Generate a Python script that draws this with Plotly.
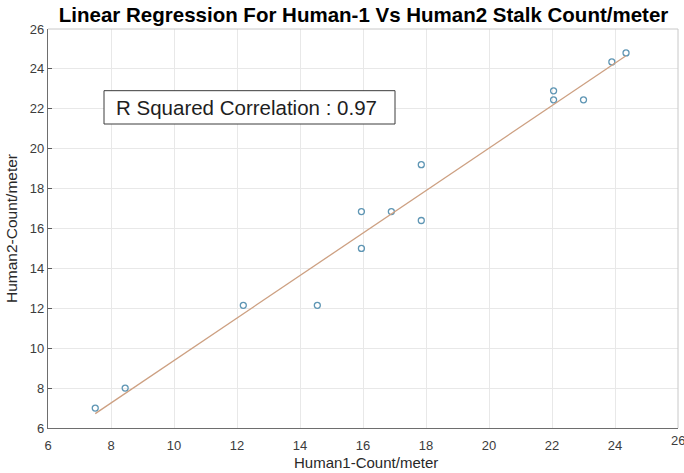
import numpy as np
import plotly.graph_objects as go

human1 = [7.5, 8.45, 12.2, 14.55, 15.95, 15.95, 16.9, 17.85, 17.85, 22.05, 22.05, 23.0, 23.9, 24.35]
human2 = [7.0, 8.0, 12.15, 12.15, 16.85, 15.0, 16.85, 19.2, 16.4, 22.9, 22.45, 22.45, 24.35, 24.8]
x_ticks = [6, 8, 10, 12, 14, 16, 18, 20, 22, 24, 26]
y_ticks = [6, 8, 10, 12, 14, 16, 18, 20, 22, 24, 26]
r2_text = "R Squared Correlation : 0.97"
x_title = "Human1-Count/meter"
y_title = "Human2-Count/meter"

slope, intercept = np.polyfit(human1, human2, 1)
fit_x = [min(human1), max(human1)]
fit_y = [slope * v + intercept for v in fit_x]

fig = go.Figure()
fig.add_trace(go.Scatter(
    x=human1, y=human2, mode="markers",
    marker=dict(symbol="circle-open", size=6, color="rgb(95,150,180)", line=dict(width=1.3)),
    showlegend=False))
fig.add_trace(go.Scatter(
    x=fit_x, y=fit_y, mode="lines",
    line=dict(color="rgb(205,160,130)", width=1.3), showlegend=False))

tick_font = dict(family="Liberation Sans, Arial", size=13, color="rgb(60,60,60)")
axis_common = dict(
    showgrid=True, gridcolor="rgb(232,232,232)", gridwidth=1,
    showline=True, linecolor="rgb(110,110,110)", linewidth=1.2,
    tickfont=tick_font, zeroline=False, automargin=False,
)

fig.update_layout(
    width=684, height=473,
    margin=dict(l=48, r=6, t=29, b=45),
    paper_bgcolor="white", plot_bgcolor="white",
    title=dict(text="<b>Linear Regression For Human-1 Vs Human2 Stalk Count/meter</b>",
               x=0.5315, xanchor="center", y=0.968, yanchor="middle", automargin=False,
               font=dict(family="Liberation Sans, Arial", size=20.5, color="black")),
    xaxis=dict(range=[6, 26], tickvals=x_ticks, ticktext=[str(v) for v in x_ticks],
               ticks="outside", ticklen=5, tickcolor="rgba(0,0,0,0)",
               **axis_common),
    yaxis=dict(range=[6, 26], tickvals=y_ticks, ticktext=[str(v) for v in y_ticks],
               ticks="inside", ticklen=4, tickcolor="rgb(90,90,90)",
               title=dict(text=y_title, standoff=8,
                          font=dict(family="Liberation Sans, Arial", size=15.5, color="rgb(40,40,40)")),
               **axis_common),
    shapes=[
        dict(type="line", xref="paper", yref="paper", x0=0, x1=1, y0=1, y1=1,
             line=dict(color="rgb(200,200,200)", width=1)),
        dict(type="line", xref="paper", yref="paper", x0=1, x1=1, y0=0, y1=1,
             line=dict(color="rgb(200,200,200)", width=1)),
        dict(type="rect", xref="paper", yref="paper", x0=0.0889, x1=0.5508, y0=0.7619, y1=0.8454,
             line=dict(color="rgb(60,60,60)", width=1), fillcolor="white", layer="above"),
    ],
    annotations=[
        dict(text=r2_text, xref="paper", yref="paper", x=0.1048, y=0.8033,
             xanchor="left", yanchor="middle", showarrow=False,
             font=dict(family="Liberation Sans, Arial", size=20.5, color="rgb(30,30,30)")),
        dict(text=str(x_ticks[-1]), xref="x", yref="paper", x=x_ticks[-1], y=0,
             xanchor="center", yanchor="top", yshift=-3, showarrow=False, font=tick_font),
        dict(text=x_title, xref="paper", yref="paper", x=0.505, y=-0.087,
             xanchor="center", yanchor="middle", showarrow=False,
             font=dict(family="Liberation Sans, Arial", size=15, color="rgb(40,40,40)")),
    ],
)

fig.write_html("out.html", config={"displayModeBar": False},
               post_script="document.body.style.margin='0px';")
